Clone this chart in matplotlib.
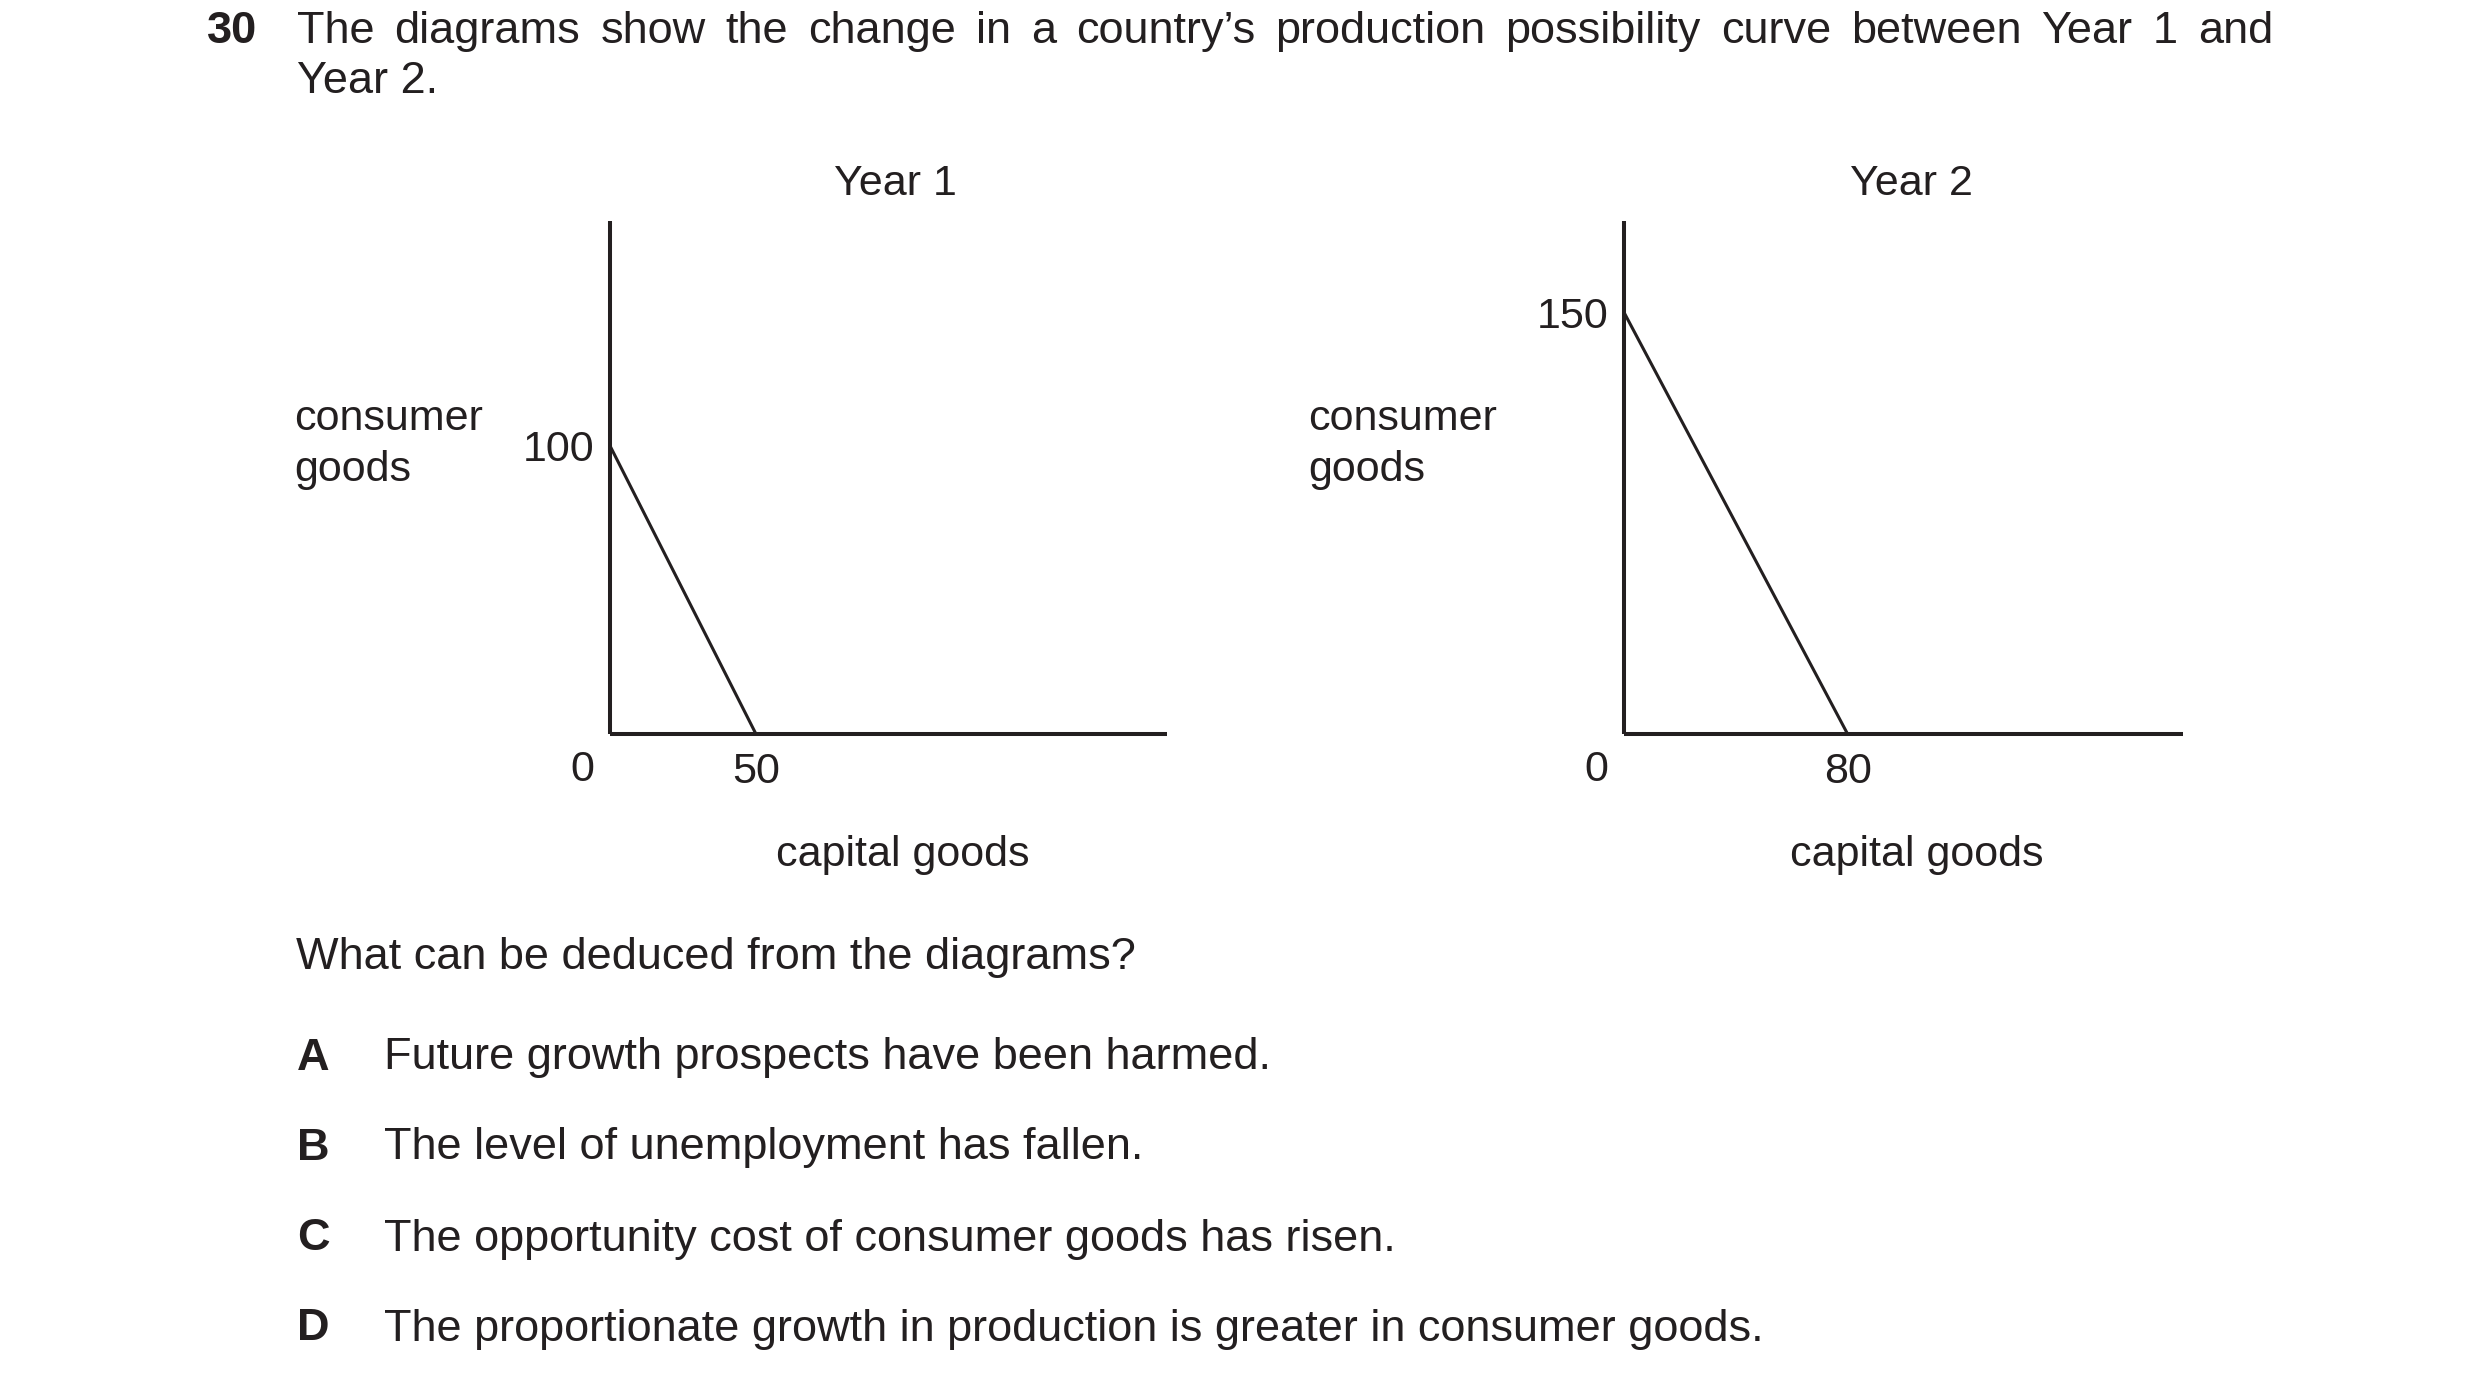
"""
Exam question 30: production possibility curves, Year 1 vs Year 2
"""

import matplotlib.pyplot as plt

# data
years = ['Year 1', 'Year 2']
consumer_max = [100, 150]   # intercept on consumer goods axis
capital_max = [50, 80]      # intercept on capital goods axis

question = "The diagrams show the change in a country\u2019s production possibility curve between Year 1 and"
question_2 = "Year 2."
prompt = "What can be deduced from the diagrams?"
option_keys = ['A', 'B', 'C', 'D']
option_texts = [
    'Future growth prospects have been harmed.',
    'The level of unemployment has fallen.',
    'The opportunity cost of consumer goods has risen.',
    'The proportionate growth in production is greater in consumer goods.',
]

W, H = 2480, 1384
INK = '#231f20'
FS = 32.5      # body text
FS_D = 31      # labels inside the diagrams
plt.rcParams['font.family'] = ['Liberation Sans', 'DejaVu Sans']

fig = plt.figure(figsize=(W / 100, H / 100), dpi=100)
fig.patch.set_facecolor('white')


def px(x, y):
    # pixel (from top-left) -> figure fraction
    return x / W, 1 - y / H


def put(x, y, s, **kw):
    fx, fy = px(x, y)
    kw.setdefault('fontsize', FS)
    kw.setdefault('color', INK)
    return fig.text(fx, fy, s, **kw)


# header with justified first line
put(207, 43, '30', fontweight='bold', va='baseline')
renderer = fig.canvas.get_renderer()
words = question.split(' ')
x_left, x_right = 297, 2273
objs = [put(x_left, 43, w, va='baseline') for w in words]
widths = [o.get_window_extent(renderer).width for o in objs]
gap = (x_right - x_left - sum(widths)) / (len(words) - 1)
xc = x_left
for o, w in zip(objs, widths):
    o.set_x(xc / W)
    xc += w + gap
put(297, 93, question_2, va='baseline')

# diagrams: pixel boxes (origin x, origin y, x end, y top) and axis limits
boxes = [(610, 734, 1167, 221), (1624, 734, 2183, 221)]
xmax_list = [190.8, 200.0]
ymax_list = [178.0, 182.5]
title_x = [895, 1911]
ylab_x = [294, 1308]
zero_x = [582, 1596]
cap_x = [903, 1917]

for i in range(2):
    x0, y0, x1, y1 = boxes[i]
    ax = fig.add_axes([x0 / W, 1 - y0 / H, (x1 - x0) / W, (y0 - y1) / H])
    ax.plot([0, capital_max[i]], [consumer_max[i], 0], color=INK, lw=2.2,
            solid_capstyle='butt', clip_on=False)
    ax.set_xlim(0, xmax_list[i])
    ax.set_ylim(0, ymax_list[i])
    for side in ['top', 'right']:
        ax.spines[side].set_visible(False)
    for side in ['left', 'bottom']:
        ax.spines[side].set_linewidth(2.9)
        ax.spines[side].set_color(INK)
        ax.spines[side].set_capstyle('butt')
    ax.set_xticks([capital_max[i]])
    ax.set_xticklabels([str(capital_max[i])])
    ax.set_yticks([consumer_max[i]])
    ax.set_yticklabels([str(consumer_max[i])])
    ax.tick_params(axis='x', length=0, pad=13, labelsize=FS_D, labelcolor=INK)
    ax.tick_params(axis='y', length=0, pad=11, labelsize=FS_D, labelcolor=INK)
    ax.patch.set_alpha(0)

    put(title_x[i], 195, years[i], ha='center', va='baseline', fontsize=FS_D)
    put(ylab_x[i], 430, 'consumer', va='baseline', fontsize=FS_D)
    put(ylab_x[i], 481, 'goods', va='baseline', fontsize=FS_D)
    put(zero_x[i], 770, '0', ha='center', va='center', fontsize=FS_D)
    put(cap_x[i], 855, 'capital goods', ha='center', va='center', fontsize=FS_D)

# question and options
put(296, 958, prompt, va='center')
opt_y = [1058, 1148, 1239, 1329]
for k, t, y in zip(option_keys, option_texts, opt_y):
    put(297, y, k, fontweight='bold', va='center')
    put(384, y, t, va='center')

fig.savefig('out.png', dpi=100, facecolor='white')
